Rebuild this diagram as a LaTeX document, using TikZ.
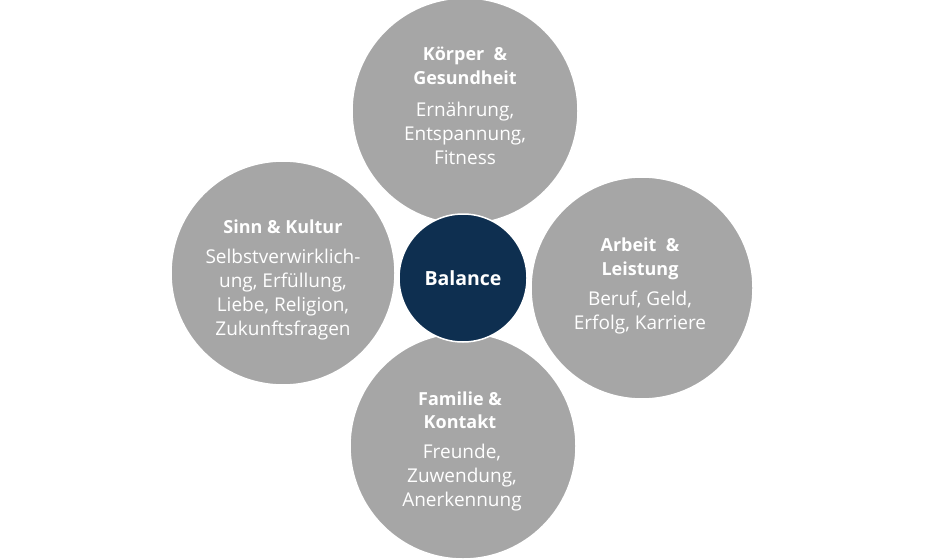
\documentclass[tikz,border=0pt]{standalone}
\usepackage{fontspec}
\setmainfont{Open Sans}
\definecolor{circgray}{HTML}{A6A6A6}
\definecolor{navy}{HTML}{0E2F50}
\begin{document}
\begin{tikzpicture}[x=1pt,y=-1pt,
  area/.style={circle,fill=circgray,draw=white,line width=1.5pt,minimum size=#1},
  ttl/.style={text=white,font=\fontsize{18}{23.5}\selectfont\bfseries,align=center},
  bdy/.style={text=white,font=\fontsize{19}{24}\selectfont,align=center}]
\useasboundingbox (0,0) rectangle (925,559);
\node[area=226pt] (top) at (465,111) {};
\node[area=222pt] (right) at (642,288) {};
\node[area=226pt] (bottom) at (463,446) {};
\node[area=224pt] (left) at (283,273) {};
\node[circle,fill=navy,draw=white,line width=1.5pt,minimum size=128pt] (center) at (463,278) {};
\node[text=white,font=\fontsize{19.5}{22}\selectfont\bfseries] (cl) at (center) {Balance};
\node[ttl] (t1) at (465,66) {Körper~~\&\\Gesundheit};
\node[bdy] (b1) at (465,133) {Ernährung,\\Entspannung,\\Fitness};
\node[ttl] (t2) at (640,259) {Arbeit~~\&\\Leistung};
\node[bdy] (b2) at (640,313) {Beruf, Geld,\\Erfolg, Karriere};
\node[ttl] (t3) at (283,227) {Sinn \& Kultur};
\node[bdy] (b3) at (283,295) {Selbstverwirklich-\\ung, Erfüllung,\\Liebe, Religion,\\Zukunftsfragen};
\node[ttl] (t4) at (460,410) {Familie \&\\Kontakt};
\node[bdy] (b4) at (462,478) {Freunde,\\Zuwendung,\\Anerkennung};
\end{tikzpicture}
\end{document}
